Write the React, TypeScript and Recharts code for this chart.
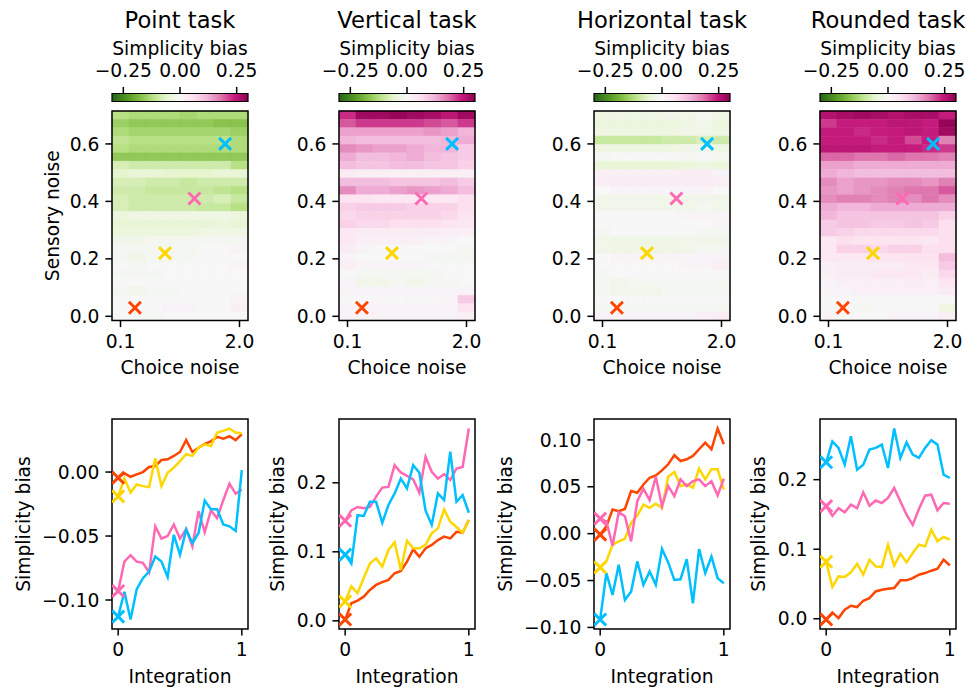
import { ComposedChart, ScatterChart, Scatter, Line, XAxis, YAxis, ReferenceArea, Label } from "recharts";

// ---- data -------------------------------------------------------------

const TASKS = ["Point task", "Vertical task", "Horizontal task", "Rounded task"];

// heatmap grid (rows listed top to bottom, i.e. sensory noise descending)
const CHOICE_NOISE = [0.1, 0.3714, 0.6429, 0.9143, 1.1857, 1.4571, 1.7286, 2.0];
const SENSORY_NOISE = [
  0.7, 0.6708, 0.6417, 0.6125, 0.5833, 0.5542, 0.525, 0.4958, 0.4667, 0.4375, 0.4083, 0.3792, 0.35,
  0.3208, 0.2917, 0.2625, 0.2333, 0.2042, 0.175, 0.1458, 0.1167, 0.0875, 0.0583, 0.0292, 0,
];

const POINT_BIAS = [
  [-0.12, -0.13, -0.13, -0.13, -0.14, -0.13, -0.13, -0.13],
  [-0.15, -0.16, -0.16, -0.16, -0.16, -0.16, -0.17, -0.17],
  [-0.13, -0.14, -0.14, -0.14, -0.14, -0.14, -0.14, -0.15],
  [-0.11, -0.12, -0.12, -0.12, -0.12, -0.12, -0.12, -0.13],
  [-0.12, -0.13, -0.13, -0.13, -0.13, -0.13, -0.13, -0.13],
  [-0.16, -0.16, -0.16, -0.16, -0.16, -0.16, -0.16, -0.16],
  [-0.08, -0.09, -0.09, -0.09, -0.09, -0.09, -0.09, -0.12],
  [-0.06, -0.05, -0.05, -0.06, -0.06, -0.06, -0.05, -0.05],
  [-0.08, -0.08, -0.09, -0.09, -0.1, -0.09, -0.09, -0.09],
  [-0.09, -0.09, -0.1, -0.1, -0.1, -0.1, -0.11, -0.12],
  [-0.08, -0.09, -0.09, -0.09, -0.09, -0.09, -0.08, -0.1],
  [-0.08, -0.09, -0.09, -0.09, -0.09, -0.1, -0.1, -0.12],
  [-0.04, -0.03, -0.03, -0.03, -0.03, -0.03, -0.03, -0.04],
  [-0.05, -0.05, -0.05, -0.05, -0.05, -0.05, -0.04, -0.05],
  [-0.04, -0.04, -0.04, -0.04, -0.04, -0.03, -0.03, -0.03],
  [-0.02, -0.02, -0.01, -0.01, -0.01, -0.01, -0.01, -0.01],
  [-0.01, -0.01, -0.01, -0.01, -0.01, 0.0, 0.0, 0.01],
  [-0.01, -0.02, -0.01, -0.01, -0.01, 0.0, 0.0, 0.0],
  [0.0, -0.01, 0.0, 0.0, 0.0, 0.0, 0.0, 0.01],
  [-0.01, -0.01, -0.01, 0.0, 0.0, 0.0, 0.0, 0.0],
  [0.0, 0.0, 0.0, 0.0, 0.0, 0.0, 0.0, 0.0],
  [-0.01, -0.02, -0.01, -0.01, 0.0, 0.0, 0.0, 0.0],
  [0.0, 0.0, 0.0, 0.0, 0.0, 0.0, 0.0, 0.01],
  [0.0, 0.0, 0.0, 0.01, 0.01, 0.0, 0.0, 0.02],
  [0.0, 0.0, -0.01, 0.0, 0.0, 0.0, 0.0, 0.0],
];

const VERTICAL_BIAS = [
  [0.23, 0.28, 0.28, 0.29, 0.28, 0.27, 0.25, 0.28],
  [0.2, 0.22, 0.22, 0.22, 0.22, 0.21, 0.2, 0.22],
  [0.14, 0.14, 0.14, 0.14, 0.14, 0.15, 0.14, 0.12],
  [0.12, 0.11, 0.11, 0.11, 0.11, 0.11, 0.12, 0.13],
  [0.16, 0.15, 0.14, 0.14, 0.13, 0.12, 0.12, 0.09],
  [0.13, 0.11, 0.11, 0.12, 0.13, 0.11, 0.1, 0.09],
  [0.11, 0.1, 0.1, 0.11, 0.11, 0.1, 0.1, 0.08],
  [0.03, 0.02, 0.02, 0.02, 0.02, 0.02, 0.02, 0.02],
  [0.11, 0.11, 0.11, 0.1, 0.1, 0.1, 0.11, 0.09],
  [0.16, 0.13, 0.13, 0.14, 0.15, 0.14, 0.13, 0.11],
  [0.05, 0.05, 0.04, 0.04, 0.04, 0.04, 0.04, 0.06],
  [0.08, 0.09, 0.09, 0.09, 0.08, 0.08, 0.08, 0.06],
  [0.07, 0.08, 0.08, 0.08, 0.08, 0.08, 0.07, 0.05],
  [0.08, 0.07, 0.07, 0.06, 0.06, 0.06, 0.05, 0.04],
  [0.04, 0.03, 0.03, 0.03, 0.03, 0.03, 0.02, 0.02],
  [0.04, 0.02, 0.02, 0.02, 0.02, 0.01, 0.01, 0.0],
  [0.03, 0.01, 0.0, 0.0, 0.0, 0.0, 0.0, -0.01],
  [0.01, 0.0, 0.0, 0.0, 0.0, -0.01, -0.01, -0.01],
  [0.02, 0.01, 0.01, 0.01, 0.01, 0.0, 0.0, 0.0],
  [0.0, -0.01, -0.01, -0.01, -0.01, -0.01, 0.0, 0.0],
  [0.01, -0.02, -0.02, -0.01, -0.02, -0.01, -0.01, 0.0],
  [0.01, 0.01, 0.01, 0.01, 0.01, 0.01, 0.01, 0.01],
  [0.0, 0.0, 0.0, 0.0, 0.0, 0.0, 0.01, 0.09],
  [0.01, 0.01, 0.01, 0.01, 0.01, 0.01, 0.01, 0.05],
  [0.01, 0.01, 0.01, 0.01, 0.01, 0.01, 0.01, 0.02],
];

const HORIZONTAL_BIAS = [
  [-0.03, -0.03, -0.03, -0.03, -0.02, -0.02, -0.01, -0.03],
  [-0.04, -0.04, -0.04, -0.04, -0.04, -0.03, -0.02, -0.04],
  [-0.03, -0.03, -0.03, -0.03, -0.03, -0.02, -0.02, -0.03],
  [-0.1, -0.1, -0.1, -0.1, -0.09, -0.09, -0.08, -0.09],
  [-0.03, -0.03, -0.03, -0.03, -0.03, -0.02, -0.02, -0.03],
  [-0.01, 0.0, 0.0, 0.0, 0.0, -0.01, 0.0, -0.01],
  [-0.05, -0.05, -0.05, -0.05, -0.05, -0.04, -0.03, -0.04],
  [0.02, 0.02, 0.02, 0.02, 0.02, 0.03, 0.03, 0.01],
  [0.02, 0.03, 0.03, 0.03, 0.03, 0.03, 0.03, 0.02],
  [0.0, 0.01, 0.01, 0.01, 0.01, 0.01, 0.01, 0.0],
  [-0.02, -0.02, -0.02, -0.02, -0.02, -0.02, -0.02, -0.02],
  [-0.02, -0.02, -0.02, -0.02, -0.02, -0.02, -0.01, -0.02],
  [0.0, 0.0, 0.0, 0.0, 0.0, 0.01, 0.01, 0.01],
  [0.0, 0.0, 0.0, 0.0, 0.0, 0.0, 0.0, 0.01],
  [-0.01, 0.0, 0.0, 0.0, 0.0, 0.0, -0.01, -0.01],
  [-0.02, -0.03, -0.03, -0.03, -0.02, -0.02, -0.02, -0.02],
  [-0.02, -0.03, -0.03, -0.03, -0.03, -0.02, -0.01, -0.01],
  [0.0, 0.01, 0.01, 0.01, 0.01, 0.01, 0.01, 0.01],
  [0.0, 0.0, 0.0, 0.0, 0.0, 0.01, 0.01, 0.02],
  [-0.01, 0.0, 0.0, 0.0, 0.0, 0.0, 0.0, 0.0],
  [-0.01, -0.02, -0.01, -0.01, -0.01, -0.01, -0.01, -0.01],
  [-0.01, -0.02, -0.02, -0.02, -0.01, -0.01, -0.01, -0.01],
  [0.0, 0.0, 0.0, 0.0, 0.0, 0.0, 0.0, 0.0],
  [-0.01, -0.01, -0.01, -0.01, -0.01, -0.01, -0.01, -0.01],
  [0.01, 0.01, 0.01, 0.01, 0.01, 0.01, 0.02, 0.03],
];

const ROUNDED_BIAS = [
  [0.26, 0.27, 0.28, 0.27, 0.26, 0.27, 0.27, 0.24],
  [0.22, 0.24, 0.24, 0.24, 0.25, 0.25, 0.24, 0.29],
  [0.24, 0.24, 0.23, 0.24, 0.24, 0.25, 0.24, 0.28],
  [0.24, 0.24, 0.24, 0.23, 0.24, 0.21, 0.24, 0.17],
  [0.25, 0.25, 0.25, 0.24, 0.24, 0.24, 0.23, 0.22],
  [0.19, 0.19, 0.18, 0.18, 0.19, 0.18, 0.18, 0.17],
  [0.14, 0.14, 0.13, 0.13, 0.13, 0.13, 0.13, 0.13],
  [0.13, 0.12, 0.11, 0.11, 0.11, 0.11, 0.11, 0.11],
  [0.16, 0.14, 0.15, 0.15, 0.16, 0.16, 0.15, 0.17],
  [0.15, 0.14, 0.15, 0.16, 0.17, 0.18, 0.18, 0.2],
  [0.16, 0.17, 0.17, 0.16, 0.17, 0.16, 0.18, 0.16],
  [0.13, 0.12, 0.12, 0.13, 0.13, 0.13, 0.13, 0.13],
  [0.12, 0.1, 0.1, 0.1, 0.1, 0.1, 0.1, 0.08],
  [0.09, 0.1, 0.1, 0.09, 0.09, 0.1, 0.09, 0.06],
  [0.09, 0.08, 0.07, 0.07, 0.07, 0.07, 0.07, 0.06],
  [0.04, 0.06, 0.05, 0.05, 0.05, 0.05, 0.04, 0.06],
  [0.04, 0.08, 0.08, 0.07, 0.08, 0.08, 0.06, 0.06],
  [0.04, 0.04, 0.04, 0.05, 0.05, 0.05, 0.05, 0.11],
  [0.02, 0.03, 0.03, 0.03, 0.03, 0.04, 0.04, 0.09],
  [0.02, 0.03, 0.03, 0.04, 0.04, 0.04, 0.03, 0.07],
  [0.01, 0.02, 0.02, 0.02, 0.02, 0.03, 0.02, 0.05],
  [0.01, 0.01, 0.02, 0.02, 0.02, 0.02, 0.02, 0.03],
  [0.0, 0.0, 0.0, 0.0, 0.0, 0.0, 0.0, 0.0],
  [0.0, 0.0, -0.01, 0.0, 0.0, 0.0, 0.0, -0.03],
  [0.01, 0.0, 0.0, 0.0, 0.01, 0.01, 0.01, 0.02],
];

// the four parameter settings marked on every heatmap
const MARK_CHOICE = [0.33, 0.81, 1.28, 1.77];
const MARK_SENSORY = [0.03, 0.22, 0.41, 0.6];
const MARK_COLORS = ["#ff4500", "#ffd700", "#ff69b4", "#00bfff"];

// simplicity bias against integration for each parameter setting
const INTEGRATION = [0, 0.05, 0.1, 0.15, 0.2, 0.25, 0.3, 0.35, 0.4, 0.45, 0.5, 0.55, 0.6, 0.65, 0.7, 0.75, 0.8, 0.85, 0.9, 0.95, 1];

const POINT_RED = [-0.0045, -0.001, -0.0037, -0.0018, 0.0, 0.004, 0.0047, 0.0094, 0.01, 0.0126, 0.0157, 0.025, 0.0157, 0.019, 0.022, 0.024, 0.0275, 0.026, 0.028, 0.025, 0.0296];
const POINT_YELLOW = [-0.019, -0.005, -0.016, -0.0097, -0.011, -0.0118, 0.0107, -0.011, -0.0005, 0.0034, 0.0086, 0.0139, 0.0126, 0.0191, 0.0217, 0.0204, 0.0309, 0.0322, 0.034, 0.0309, 0.0304];
const POINT_PINK = [-0.093, -0.07, -0.065, -0.07, -0.071, -0.0785, -0.0424, -0.052, -0.05, -0.041, -0.052, -0.0445, -0.058, -0.0306, -0.047, -0.03, -0.036, -0.022, -0.009, -0.017, -0.0136];
const POINT_BLUE = [-0.113, -0.0935, -0.1152, -0.0916, -0.083, -0.0777, -0.066, -0.07, -0.082, -0.049, -0.0647, -0.045, -0.0555, -0.0476, -0.0223, -0.029, -0.029, -0.041, -0.0424, -0.046, 0.0016];

const VERTICAL_RED = [0.002, 0.0255, 0.0294, 0.035, 0.0448, 0.052, 0.056, 0.0593, 0.069, 0.0723, 0.0858, 0.1036, 0.093, 0.105, 0.11, 0.117, 0.122, 0.1195, 0.129, 0.1277, 0.146];
const VERTICAL_YELLOW = [0.028, 0.05, 0.04, 0.062, 0.083, 0.0906, 0.0786, 0.1027, 0.1137, 0.0737, 0.116, 0.105, 0.105, 0.11, 0.1267, 0.134, 0.1614, 0.1436, 0.136, 0.1277, 0.146];
const VERTICAL_PINK = [0.145, 0.16, 0.165, 0.163, 0.165, 0.18, 0.193, 0.194, 0.2255, 0.215, 0.21, 0.205, 0.1855, 0.2376, 0.216, 0.206, 0.2125, 0.204, 0.2207, 0.223, 0.2786];
const VERTICAL_BLUE = [0.096, 0.083, 0.153, 0.152, 0.1725, 0.1725, 0.142, 0.168, 0.1846, 0.206, 0.192, 0.2255, 0.2145, 0.16, 0.139, 0.1846, 0.175, 0.245, 0.1725, 0.182, 0.1566];

const HORIZONTAL_RED = [-0.001, 0.0079, 0.0257, 0.024, 0.0264, 0.0454, 0.0436, 0.0525, 0.0596, 0.0621, 0.0675, 0.074, 0.0836, 0.0775, 0.0793, 0.0829, 0.09, 0.0971, 0.09, 0.1121, 0.0954];
const HORIZONTAL_YELLOW = [-0.036, -0.0296, -0.0118, -0.0082, -0.0054, 0.0114, 0.0193, 0.031, 0.0275, 0.032, 0.0275, 0.0607, 0.0657, 0.0507, 0.0525, 0.049, 0.0693, 0.0579, 0.0686, 0.0686, 0.0471];
const HORIZONTAL_PINK = [0.016, 0.013, -0.0129, 0.0229, 0.0186, -0.0082, 0.0346, 0.0479, 0.0357, 0.0607, 0.0293, 0.0507, 0.04, 0.0579, 0.0507, 0.056, 0.0579, 0.0507, 0.056, 0.0407, 0.0586];
const HORIZONTAL_BLUE = [-0.0915, -0.042, -0.0654, -0.0332, -0.0707, -0.0618, -0.0296, -0.0546, -0.0404, -0.0546, -0.0164, -0.0307, -0.0493, -0.0486, -0.0271, -0.0743, -0.0164, -0.0421, -0.0243, -0.0475, -0.0529];

const ROUNDED_RED = [-0.001, 0.0091, 0.001, 0.013, 0.0187, 0.0168, 0.0259, 0.0297, 0.0393, 0.0417, 0.0432, 0.0441, 0.0552, 0.0552, 0.0585, 0.0633, 0.0657, 0.0691, 0.0719, 0.0849, 0.0767];
const ROUNDED_YELLOW = [0.082, 0.0456, 0.0609, 0.06, 0.0667, 0.0791, 0.0633, 0.0849, 0.0753, 0.0743, 0.1065, 0.0763, 0.0935, 0.0811, 0.0945, 0.1065, 0.1041, 0.128, 0.1113, 0.1175, 0.1137];
const ROUNDED_PINK = [0.162, 0.148, 0.159, 0.153, 0.164, 0.159, 0.1818, 0.1626, 0.17, 0.1664, 0.1736, 0.188, 0.1688, 0.1496, 0.135, 0.1578, 0.177, 0.1784, 0.1559, 0.1664, 0.1655];
const ROUNDED_BLUE = [0.225, 0.255, 0.2456, 0.2216, 0.2624, 0.2144, 0.2216, 0.2432, 0.2456, 0.2504, 0.2168, 0.2735, 0.2312, 0.2537, 0.236, 0.2312, 0.2456, 0.2566, 0.2504, 0.2072, 0.2024];

const HEATMAPS = [POINT_BIAS, VERTICAL_BIAS, HORIZONTAL_BIAS, ROUNDED_BIAS];
const CURVES = [
  [POINT_RED, POINT_YELLOW, POINT_PINK, POINT_BLUE],
  [VERTICAL_RED, VERTICAL_YELLOW, VERTICAL_PINK, VERTICAL_BLUE],
  [HORIZONTAL_RED, HORIZONTAL_YELLOW, HORIZONTAL_PINK, HORIZONTAL_BLUE],
  [ROUNDED_RED, ROUNDED_YELLOW, ROUNDED_PINK, ROUNDED_BLUE],
];

const CBAR_TICKS = [-0.25, 0, 0.25];
const HEAT_Y_TICKS = [0, 0.2, 0.4, 0.6];
const HEAT_X_TICKS = [0.1, 2.0];
const CURVE_Y_TICKS = [[-0.1, -0.05, 0], [0, 0.1, 0.2], [-0.1, -0.05, 0, 0.05, 0.1], [0, 0.1, 0.2]];
const CURVE_Y_DECIMALS = [2, 1, 2, 1];

// ---- colours / layout ------------------------------------------------

const VMIN = -0.3;
const VMAX = 0.3;
// PiYG reversed: green for negative, magenta for positive
const PIYG_R = ["#276419", "#4d9221", "#7fbc41", "#b8e186", "#e6f5d0", "#f7f7f7", "#fde0ef", "#f1b6da", "#de77ae", "#c51b7d", "#8e0152"];

const FONT = '"DejaVu Sans", sans-serif';
const FS = 18.7;
const TITLE_FS = 22.6;
const SPINE = 1.5;
const TICK_LEN = 6.6;

const COL_X = [112, 339, 594, 820];
const PLOT_W = 136;
const AXIS_W = 100;
const RIGHT_PAD = 10;

const CB_TOP = 93.5;
const CB_H = 8;
const CB_AXIS_H = 36;
const CB_SIDE = 45;

const HM_TOP = 111;
const HM_H = 209.5;
const HM_AXIS_H = 70;

const LN_TOP = 419;
const LN_H = 210;
const LN_AXIS_H = 70;
const LN_YLABEL_DIST = [89, 62, 89, 62];

const hexToRgb = (h: string) => [1, 3, 5].map((i) => parseInt(h.slice(i, i + 2), 16));

function biasColor(v: number) {
  const t = Math.min(1, Math.max(0, (v - VMIN) / (VMAX - VMIN))) * (PIYG_R.length - 1);
  const i = Math.min(PIYG_R.length - 2, Math.floor(t));
  const f = t - i;
  const a = hexToRgb(PIYG_R[i]);
  const b = hexToRgb(PIYG_R[i + 1]);
  const c = a.map((x, k) => Math.round(x + (b[k] - x) * f));
  return `rgb(${c[0]},${c[1]},${c[2]})`;
}

// cell extent around a grid centre (half-way to neighbours)
function cellSpan(centers: number[], i: number): [number, number] {
  const c = centers[i];
  const prev = i > 0 ? centers[i - 1] : 2 * c - centers[i + 1];
  const next = i < centers.length - 1 ? centers[i + 1] : 2 * c - centers[i - 1];
  const a = (prev + c) / 2;
  const b = (next + c) / 2;
  return [Math.min(a, b), Math.max(a, b)];
}

function fullSpan(centers: number[]): [number, number] {
  const spans = centers.map((_, i) => cellSpan(centers, i));
  return [Math.min(...spans.map((s) => s[0])), Math.max(...spans.map((s) => s[1]))];
}

function padded(series: number[][]): [number, number] {
  const all = series.flat();
  const lo = Math.min(...all);
  const hi = Math.max(...all);
  const m = (hi - lo) * 0.05;
  return [lo - m, hi + m];
}

const fmt = (d: number) => (v: number) => v.toFixed(d).replace("-", "\u2212");

const tickStyle = { fontSize: FS, fontFamily: FONT, fill: "#000" };
const tickLine = { stroke: "#000", strokeWidth: SPINE };

// caption centred under / over a horizontal axis, dy measured from the axis line
const hCaption = (text: string, dy: number, size: number, top = false) =>
  function HCaption(props: any) {
    const vb = props.viewBox || {};
    const lineY = top ? vb.y + vb.height : vb.y;
    return (
      <text x={vb.x + vb.width / 2} y={lineY + dy} textAnchor="middle" fontFamily={FONT} fontSize={size} fill="#000">
        {text}
      </text>
    );
  };

// rotated caption left of a y axis, centred at `dist` px from the plot edge
const vCaption = (text: string, dist: number) =>
  function VCaption(props: any) {
    const vb = props.viewBox || {};
    const x = vb.x + vb.width - dist;
    const y = vb.y + vb.height / 2;
    return (
      <text x={x} y={y} transform={`rotate(-90 ${x} ${y})`} textAnchor="middle" dominantBaseline="central" fontFamily={FONT} fontSize={FS} fill="#000">
        {text}
      </text>
    );
  };

const crossShape = (color: string) =>
  function Cross(p: any) {
    const { cx, cy } = p;
    const s = 6;
    return (
      <path d={`M${cx - s},${cy - s}L${cx + s},${cy + s}M${cx - s},${cy + s}L${cx + s},${cy - s}`} stroke={color} strokeWidth={3} fill="none" />
    );
  };

// ---- panels -----------------------------------------------------------

function Colorbar({ col }: { col: number }) {
  const gid = `piyg-${col}`;
  return (
    <div style={{ position: "absolute", left: COL_X[col] - CB_SIDE, top: 0 }}>
      <ComposedChart
        width={PLOT_W + 2 * CB_SIDE}
        height={CB_TOP + CB_H + 4}
        data={CBAR_TICKS.map((v) => ({ v, y: 0.5 }))}
        margin={{ top: CB_TOP - CB_AXIS_H, right: CB_SIDE, bottom: 4, left: CB_SIDE }}
      >
        <defs>
          <linearGradient id={gid} x1="0" x2="1" y1="0" y2="0">
            {PIYG_R.map((c, i) => (
              <stop key={i} offset={i / (PIYG_R.length - 1)} stopColor={c} />
            ))}
          </linearGradient>
        </defs>
        <XAxis
          type="number"
          dataKey="v"
          orientation="top"
          domain={[VMIN, VMAX]}
          allowDataOverflow
          ticks={CBAR_TICKS}
          interval={0}
          height={CB_AXIS_H}
          tickFormatter={fmt(2)}
          tick={tickStyle}
          tickLine={tickLine}
          tickSize={TICK_LEN}
          tickMargin={10}
          axisLine={false}
        >
          <Label content={hCaption("Simplicity bias", -39, FS, true)} />
          <Label content={hCaption(TASKS[col], -65.3, TITLE_FS, true)} />
        </XAxis>
        <YAxis type="number" dataKey="y" hide domain={[0, 1]} allowDataOverflow width={0} />
        <ReferenceArea x1={VMIN} x2={VMAX} y1={0} y2={1} fill={`url(#${gid})`} fillOpacity={1} stroke="#000" strokeWidth={1.2} ifOverflow="visible" />
      </ComposedChart>
    </div>
  );
}

function Heatmap({ col }: { col: number }) {
  const values = HEATMAPS[col];
  const xDom = fullSpan(CHOICE_NOISE);
  const yDom = fullSpan(SENSORY_NOISE);
  const cells = values.flatMap((row, r) =>
    row.map((v, c) => {
      const [x1, x2] = cellSpan(CHOICE_NOISE, c);
      const [y1, y2] = cellSpan(SENSORY_NOISE, r);
      return { x1, x2, y1, y2, color: biasColor(v), key: `${r}-${c}` };
    })
  );
  const top = 6;
  return (
    <div style={{ position: "absolute", left: COL_X[col] - AXIS_W, top: HM_TOP - top }}>
      <ScatterChart width={AXIS_W + PLOT_W + RIGHT_PAD} height={top + HM_H + HM_AXIS_H} margin={{ top, right: RIGHT_PAD, bottom: 0, left: 0 }}>
        <XAxis
          type="number"
          dataKey="x"
          domain={xDom}
          allowDataOverflow
          ticks={HEAT_X_TICKS}
          interval={0}
          height={HM_AXIS_H}
          tickFormatter={fmt(1)}
          tick={tickStyle}
          tickLine={tickLine}
          tickSize={TICK_LEN}
          tickMargin={7.5}
          axisLine={false}
        >
          <Label content={hCaption("Choice noise", 53.5, FS)} />
        </XAxis>
        <YAxis
          type="number"
          dataKey="y"
          domain={yDom}
          allowDataOverflow
          ticks={HEAT_Y_TICKS}
          interval={0}
          width={AXIS_W}
          tickFormatter={fmt(1)}
          tick={tickStyle}
          tickLine={tickLine}
          tickSize={TICK_LEN}
          tickMargin={6}
          axisLine={false}
        >
          {col === 0 && <Label content={vCaption("Sensory noise", 60)} />}
        </YAxis>
        {cells.map((c) => (
          <ReferenceArea key={c.key} x1={c.x1} x2={c.x2} y1={c.y1} y2={c.y2} fill={c.color} fillOpacity={1} stroke={c.color} strokeWidth={0.6} ifOverflow="visible" />
        ))}
        <ReferenceArea x1={xDom[0]} x2={xDom[1]} y1={yDom[0]} y2={yDom[1]} fill="none" stroke="#000" strokeWidth={SPINE} ifOverflow="visible" />
        {MARK_COLORS.map((color, k) => (
          <Scatter
            key={color}
            data={[{ x: MARK_CHOICE[k], y: MARK_SENSORY[k] }]}
            fill={color}
            shape={crossShape(color)}
            isAnimationActive={false}
          />
        ))}
      </ScatterChart>
    </div>
  );
}

function CurvePanel({ col }: { col: number }) {
  const series = CURVES[col];
  const data = INTEGRATION.map((t, i) => ({ t, red: series[0][i], yellow: series[1][i], pink: series[2][i], blue: series[3][i] }));
  const keys = ["red", "yellow", "pink", "blue"];
  const yDom = padded(series);
  const xDom: [number, number] = [-0.05, 1.05];
  const top = 6;
  return (
    <div style={{ position: "absolute", left: COL_X[col] - AXIS_W, top: LN_TOP - top }}>
      <ComposedChart width={AXIS_W + PLOT_W + RIGHT_PAD} height={top + LN_H + LN_AXIS_H} data={data} margin={{ top, right: RIGHT_PAD, bottom: 0, left: 0 }}>
        <XAxis
          type="number"
          dataKey="t"
          domain={xDom}
          allowDataOverflow
          ticks={[0, 1]}
          interval={0}
          height={LN_AXIS_H}
          tickFormatter={fmt(0)}
          tick={tickStyle}
          tickLine={tickLine}
          tickSize={TICK_LEN}
          tickMargin={7.5}
          axisLine={false}
        >
          <Label content={hCaption("Integration", 53.5, FS)} />
        </XAxis>
        <YAxis
          type="number"
          domain={yDom}
          allowDataOverflow
          ticks={CURVE_Y_TICKS[col]}
          interval={0}
          width={AXIS_W}
          tickFormatter={fmt(CURVE_Y_DECIMALS[col])}
          tick={tickStyle}
          tickLine={tickLine}
          tickSize={TICK_LEN}
          tickMargin={6}
          axisLine={false}
        >
          <Label content={vCaption("Simplicity bias", LN_YLABEL_DIST[col])} />
        </YAxis>
        <ReferenceArea x1={xDom[0]} x2={xDom[1]} y1={yDom[0]} y2={yDom[1]} fill="none" stroke="#000" strokeWidth={SPINE} ifOverflow="visible" />
        {keys.map((k, i) => (
          <Line
            key={k}
            type="linear"
            dataKey={k}
            stroke={MARK_COLORS[i]}
            strokeWidth={2.5}
            activeDot={false}
            dot={(p: any) =>
              p.index === 0 ? (
                <g key={`m-${k}`}>{crossShape(MARK_COLORS[i])(p)}</g>
              ) : (
                <g key={`d-${k}-${p.index}`} />
              )
            }
            isAnimationActive={false}
          />
        ))}
      </ComposedChart>
    </div>
  );
}

export default function App() {
  return (
    <div style={{ position: "absolute", left: 0, top: 0, width: 966, height: 688, background: "#fff", overflow: "hidden" }}>
      {TASKS.map((_, col) => (
        <div key={col}>
          <Colorbar col={col} />
          <Heatmap col={col} />
          <CurvePanel col={col} />
        </div>
      ))}
    </div>
  );
}
